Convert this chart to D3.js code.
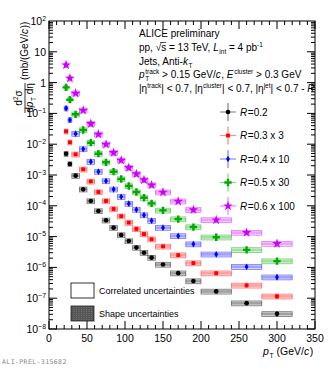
<!DOCTYPE html>
<html><head><meta charset="utf-8">
<script src="https://cdn.jsdelivr.net/npm/d3@7"></script>
<style>
body{margin:0;background:#fff}
svg{display:block}
text{font-family:"Liberation Sans",Arial,Helvetica,sans-serif;white-space:pre;fill:#000}
</style>
</head><body>
<svg id="c" width="332" height="369"></svg>
<script>
// ---------- data ----------
const binLo = [20,25,30,40,50,60,70,80,90,100,110,120,130,140,160,180,200,240,280];
const binHi = [25,30,40,50,60,70,80,90,100,110,120,130,140,160,180,200,240,280,320];
// plotted (already scaled) cross sections, mb/(GeV/c)
const r02  = [4.9e-3,2.28e-3,9.5e-4,3.43e-4,1.43e-4,6.8e-5,3.38e-5,1.95e-5,1.13e-5,7.2e-6,4.4e-6,3.0e-6,2.07e-6,1.24e-6,6.5e-7,3.6e-7,1.66e-7,6.9e-8,3.1e-8];
const r03  = [0.0262,0.01153,4.7e-3,1.53e-3,6.2e-4,2.8e-4,1.43e-4,7.9e-5,4.6e-5,2.83e-5,1.77e-5,1.21e-5,8.2e-6,4.8e-6,2.5e-6,1.38e-6,6.5e-7,2.6e-7,1.15e-7];
const r04  = [0.1466,0.0611,0.0219,6.98e-3,2.7e-3,1.28e-3,6.4e-4,3.43e-4,1.97e-4,1.17e-4,7.5e-5,5.0e-5,3.28e-5,1.95e-5,1.05e-5,5.7e-6,2.66e-6,1.05e-6,4.8e-7];
const r05  = [0.70,0.279,0.0935,0.0289,0.0112,4.92e-3,2.58e-3,1.28e-3,7.4e-4,4.4e-4,2.8e-4,1.83e-4,1.2e-4,7.1e-5,3.7e-5,2.04e-5,9.5e-6,3.7e-6,1.6e-6];
const r06  = [3.73,1.38,0.45,0.126,0.0463,0.0210,9.9e-3,5.3e-3,3.0e-3,1.73e-3,1.08e-3,6.9e-4,4.7e-4,2.75e-4,1.4e-4,7.4e-5,3.46e-5,1.35e-5,5.9e-6];
// relative uncertainties
const statRel  = [0.01,0.01,0.01,0.01,0.01,0.01,0.01,0.01,0.01,0.015,0.015,0.02,0.02,0.02,0.03,0.04,0.05,0.08,0.12];
const corrRel  = [0.18,0.18,0.18,0.18,0.18,0.18,0.18,0.18,0.18,0.18,0.18,0.18,0.18,0.18,0.18,0.18,0.18,0.18,0.18];
const shapeRel = [0.10,0.10,0.10,0.10,0.10,0.10,0.10,0.10,0.10,0.10,0.10,0.10,0.10,0.10,0.10,0.10,0.10,0.10,0.10];
const seriesR      = ["0.2","0.3","0.4","0.5","0.6"];
const seriesScale  = [""," x 3"," x 10"," x 30"," x 100"];
const seriesValues = [r02,r03,r04,r05,r06];
const seriesColors = ["#000000","#ff0000","#0000ff","#00aa00","#cc00ff"];
const xTicks = [0,50,100,150,200,250,300,350];
const yExps  = [2,1,0,-1,-2,-3,-4,-5,-6,-7,-8];

// ---------- layout ----------
const svg = d3.select("#c");
const X0=49, X1=315, Y0=329, Y1=21;
const x = d3.scaleLinear().domain([0,350]).range([X0,X1]);
const y = d3.scaleLog().domain([1e-8,1e2]).range([Y0,Y1]);

// rich text helper
function rich(parent, x0, yb, segs, size){
  let cx = x0;
  segs.forEach(s=>{
    if (s.t !== undefined){
      const e = parent.append("text").attr("x",cx).attr("y",yb).attr("font-size",size)
        .style("font-style", s.it?"italic":"normal").text(s.t);
      const w = e.node().getComputedTextLength();
      if (s.over){
        parent.append("line").attr("x1",cx-1).attr("x2",cx+w).attr("y1",yb-size*0.85).attr("y2",yb-size*0.85)
          .attr("stroke","#000").attr("stroke-width",0.7);
      }
      cx += w + (s.it?0.6:0);
    } else {
      let w=0; const fs=size*0.65;
      if (s.sup!==undefined){ const e=parent.append("text").attr("x",cx).attr("y",yb-size*0.42).attr("font-size",fs).text(s.sup); w=Math.max(w,e.node().getComputedTextLength()); }
      if (s.sub!==undefined){ const e=parent.append("text").attr("x",cx).attr("y",yb+size*0.3).attr("font-size",fs).text(s.sub); w=Math.max(w,e.node().getComputedTextLength()); }
      cx += w;
    }
  });
  return cx - x0;
}

// ---------- axes frame ----------
const axG = svg.append("g").attr("stroke","#000").attr("stroke-width",1);
axG.append("rect").attr("x",X0).attr("y",Y1).attr("width",X1-X0).attr("height",Y0-Y1).attr("fill","none");
d3.range(0,351,10).forEach(v=>{
  const L = (v%50===0)?8:4;
  axG.append("line").attr("x1",x(v)).attr("x2",x(v)).attr("y1",Y0).attr("y2",Y0-L);
  axG.append("line").attr("x1",x(v)).attr("x2",x(v)).attr("y1",Y1).attr("y2",Y1+L);
});
for (let e=-8;e<2;e++){
  for (let m=1;m<=9;m++){
    const v=m*Math.pow(10,e); const L=(m===1)?8:4;
    axG.append("line").attr("x1",X0).attr("x2",X0+L).attr("y1",y(v)).attr("y2",y(v));
    axG.append("line").attr("x1",X1).attr("x2",X1-L).attr("y1",y(v)).attr("y2",y(v));
  }
}
xTicks.forEach(v=>{
  svg.append("text").attr("x",x(v)).attr("y",342).attr("font-size",10.5).attr("text-anchor","middle").text(v);
});
yExps.forEach(e=>{
  const yy = y(Math.pow(10,e))+4;
  const g = svg.append("g");
  let segs;
  if (e===1) segs=[{t:"10"}]; else if (e===0) segs=[{t:"1"}]; else segs=[{t:"10"},{sup:String(e).replace("-","\u2212")}];
  const w = rich(g,0,yy,segs,10.5);
  g.attr("transform",`translate(${46-w},0)`);
});

// ---------- data marks ----------
const plot = svg.append("g");
seriesValues.forEach((vals,si)=>{
  const col = seriesColors[si];
  const g = plot.append("g");
  vals.forEach((v,i)=>{
    const xl=x(binLo[i]), xr=x(binHi[i]);
    g.append("rect").attr("x",xl).attr("width",xr-xl)
      .attr("y",y(v*(1+shapeRel[i]))).attr("height",y(v*(1-shapeRel[i]))-y(v*(1+shapeRel[i])))
      .attr("fill",col).attr("fill-opacity",0.28);
    g.append("rect").attr("x",xl).attr("width",xr-xl)
      .attr("y",y(v*(1+corrRel[i]))).attr("height",y(v*(1-corrRel[i]))-y(v*(1+corrRel[i])))
      .attr("fill",col).attr("fill-opacity",0.12).attr("stroke",col).attr("stroke-opacity",0.5).attr("stroke-width",0.8);
    const xc=x((binLo[i]+binHi[i])/2);
    g.append("line").attr("x1",xc).attr("x2",xc).attr("y1",y(v*(1+statRel[i]))-1).attr("y2",y(v*(1-statRel[i]))+1)
      .attr("stroke",col).attr("stroke-width",1);
  });
});
const symTypes=[d3.symbolCircle,d3.symbolSquare,d3.symbolDiamond,d3.symbolCross,d3.symbolStar];
const symSizes=[17,15,13,30,30];
function marker(g,cx,cy,si){
  g.append("path").attr("d",d3.symbol().type(symTypes[si]).size(symSizes[si])())
    .attr("transform",`translate(${cx},${cy})`).attr("fill",seriesColors[si]);
}
seriesValues.forEach((vals,si)=>{
  vals.forEach((v,i)=>marker(plot,x((binLo[i]+binHi[i])/2),y(v),si));
});

// ---------- legend ----------
const lg = svg.append("g");
seriesR.forEach((r,si)=>{
  const ly = 112 + si*23.5, lx=228, col=seriesColors[si];
  lg.append("line").attr("x1",lx-8).attr("x2",lx+8).attr("y1",ly).attr("y2",ly).attr("stroke",col).attr("stroke-opacity",0.45).attr("stroke-width",1.2);
  lg.append("line").attr("x1",lx).attr("x2",lx).attr("y1",ly-9).attr("y2",ly+9).attr("stroke",col).attr("stroke-opacity",0.6).attr("stroke-width",1);
  marker(lg,lx,ly,si);
  rich(lg,240,ly+3.5,[{t:"R",it:true},{t:"=" + r + seriesScale[si]}],10);
});

// ---------- header text ----------
const tg = svg.append("g");
const TX=139, TS=10;
rich(tg,TX,37,[{t:"ALICE preliminary"}],TS);
rich(tg,TX,51,[{t:"pp, \u221A"},{t:"s",over:true},{t:" = 13 TeV, "},{t:"L",it:true},{sub:"int"},{t:" = 4 pb"},{sup:"-1"}],TS);
rich(tg,TX,64.5,[{t:"Jets, Anti-"},{t:"k",it:true},{sub:"T"}],TS);
rich(tg,TX,78,[{t:"p",it:true},{sub:"T",sup:"track"},{t:" > 0.15 GeV/"},{t:"c",it:true},{t:", "},{t:"E",it:true},{sup:"cluster"},{t:" > 0.3 GeV"}],TS);
rich(tg,TX,92,[{t:"|\u03B7"},{sup:"track"},{t:"| < 0.7, |\u03B7"},{sup:"cluster"},{t:"| < 0.7, |\u03B7"},{sup:"jet"},{t:"| < 0.7 - "},{t:"R",it:true}],TS);

// ---------- uncertainty legend ----------
svg.append("rect").attr("x",71).attr("y",283).attr("width",23).attr("height",15).attr("fill","#fff").attr("stroke","#000").attr("stroke-width",0.8);
const hb = svg.append("g");
hb.append("rect").attr("x",71).attr("y",306).attr("width",23).attr("height",15).attr("fill","#555").attr("stroke","#222").attr("stroke-width",0.8);
d3.range(74,94,2.5).forEach(xx=>hb.append("line").attr("x1",xx).attr("x2",xx).attr("y1",307).attr("y2",320).attr("stroke","#999").attr("stroke-width",0.5).attr("stroke-dasharray","1,1"));
svg.append("text").attr("x",99).attr("y",294).attr("font-size",9).text("Correlated uncertainties");
svg.append("text").attr("x",99).attr("y",317).attr("font-size",9).text("Shape uncertainties");

// ---------- axis titles ----------
rich(svg.append("g"),263,355,[{t:"p",it:true},{sub:"T"},{t:" (GeV/"},{t:"c",it:true},{t:")"}],10.5);

const yt = svg.append("g").attr("transform","rotate(-90)");
const num = yt.append("g"); const wn = rich(num,0,22,[{t:"d"},{sup:"2"},{t:"\u03C3"}],10);
num.attr("transform",`translate(${-98-wn/2},0)`);
const den = yt.append("g"); const wd = rich(den,0,32.5,[{t:"d"},{t:"p",it:true},{sub:"T"},{t:" d\u03B7"}],10);
den.attr("transform",`translate(${-98-wd/2},0)`);
yt.append("line").attr("x1",-113).attr("x2",-83).attr("y1",25).attr("y2",25).attr("stroke","#000").attr("stroke-width",0.8);
rich(yt,-80,28,[{t:"(mb/(GeV/"},{t:"c",it:true},{t:"))"}],10);

// footer
svg.append("text").attr("x",2).attr("y",364).attr("font-size",6.5).attr("letter-spacing",0.4).style("font-family","'DejaVu Sans Mono',monospace").style("fill","#888").text("ALI-PREL-315682");
</script>
</body></html>
